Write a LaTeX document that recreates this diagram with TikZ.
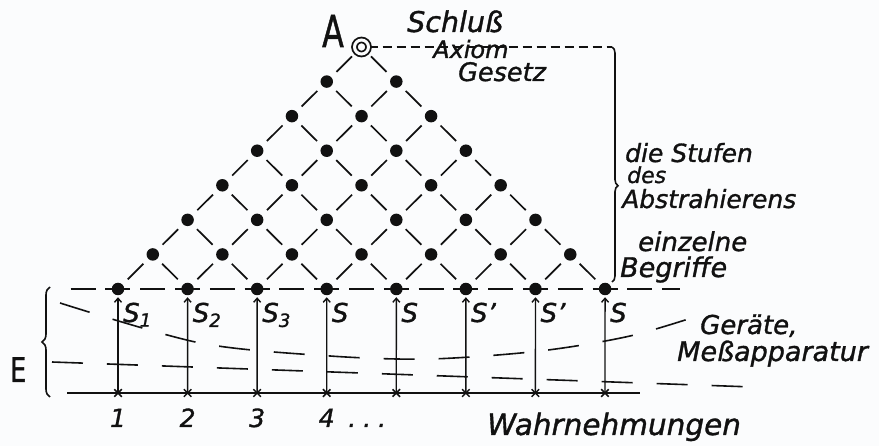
\documentclass[tikz,border=0pt]{standalone}
\usepackage{fontspec}
\setmainfont{DejaVu Sans}[FakeBold=1.2]
\usetikzlibrary{arrows.meta,positioning,calc,shapes.misc,decorations.pathreplacing,backgrounds}
\definecolor{ink}{HTML}{111111}
\definecolor{paper}{HTML}{FBFCFD}
\newcommand{\fs}[1]{\fontsize{#1}{#1}\selectfont\itshape}

\begin{document}
\begin{tikzpicture}[x=1pt,y=-1pt,font=\fs{26},text=ink,
  dot/.style={circle,fill=ink,inner sep=0pt,outer sep=0pt,minimum size=12.5pt},
  apex/.style={circle,draw=ink,double=paper,double distance=3pt,line width=1.8pt,
    inner sep=0pt,outer sep=0pt,minimum size=14pt},
  lattice/.style={ink,line width=1.7pt,dash pattern=on 0pt off 7.52pt on 22pt off 19.52pt},
  level/.style={ink,line width=1.7pt,dash pattern=on 25pt off 9.79pt},
  gauge/.style={ink,line width=1.6pt,dash pattern=on 31pt off 24pt},
  ray/.style={ink,line width=1.4pt,-{Straight Barb[length=4pt,width=7pt]},shorten >=2pt},
  tick/.style={cross out,draw=ink,line width=1.5pt,minimum size=6pt,inner sep=0pt},
  note/.style={anchor=base west,inner sep=0pt},
  brc/.style={ink,line width=1.6pt,decorate}]
  \useasboundingbox (0,0) rectangle (879,446);
  % lattice of concepts, apex on top
  \foreach \r in {0,...,6} {
    \pgfmathtruncatemacro\kmax{7-\r}
    \foreach \k in {0,...,\kmax}
      \node[dot] (d-\r-\k) at ({118+(2*\k+\r)*34.79},{289-\r*34.57}) {};
  }
  \node[apex] (d-7-0) at (361.5,47) {};
  \node[note,font=\fontsize{44}{44}\selectfont,xscale=0.72] (A) at (322,47) {A};
  % observations and measured values
  \foreach \i/\t in {0/{S\textsubscript{1}},1/{S\textsubscript{2}},2/{S\textsubscript{3}},3/S,4/S,5/S',6/S',7/S} {
    \node[tick] (x-\i) at ({118+\i*69.57},393) {};
    \node[note] (s-\i) at ({123+\i*69.57},322) {\t};
  }
  \foreach \i/\t in {0/1,1/2,2/3,3/4}
    \node[anchor=base,inner sep=0pt,font=\fs{25}] (n-\i) at ({118+\i*69.57},427) {\t};
  \node[note,font=\fs{25}] (more) at (348,427) {.\hspace{7pt}.\hspace{7pt}.};
  \coordinate (hl-w) at (70.7,289);
  \coordinate (hl-e) at (680,289);
  \coordinate (bl-w) at (67,393);
  \coordinate (bl-e) at (640,393);
  \coordinate (br-top) at (612,47);
  \coordinate (br-bot) at (612,282);
  \coordinate (lb-top) at (50,287);
  \coordinate (lb-bot) at (50,397);
  \coordinate (g2-w) at (52,362);
  \coordinate (g2-e) at (753,387);
  % labels
  \node[note,font=\fs{28.5}] (schluss) at (407,32) {Schluß};
  \node[note,font=\fs{24}] (axiom) at (433,58) {Axiom};
  \node[note,font=\fs{25.5}] (gesetz) at (458,81) {Gesetz};
  \node[note,font=\fs{25}] (stufen) at (625,162) {die Stufen};
  \node[note,font=\fs{22}] (des) at (627,183) {des};
  \node[note,font=\fs{25}] (abstr) at (622,208) {Abstrahierens};
  \node[note,font=\fs{26}] (einz) at (638,251) {einzelne};
  \node[note,font=\fs{27}] (begr) at (620,277) {Begriffe};
  \node[note,font=\fs{26}] (geraete) at (700,334) {Geräte,};
  \node[note,font=\fs{27}] (mess) at (677,361) {Meßapparatur};
  \node[note,font=\fs{29.5}] (wahr) at (487,435) {Wahrnehmungen};
  \node[note,font=\fontsize{34}{34}\selectfont,xscale=0.75] (E) at (10,382) {E};
  \begin{scope}[on background layer]
    \fill[paper] (0,0) rectangle (879,446);
    \foreach \i in {0,...,6} {
      \pgfmathtruncatemacro\j{7-\i}
      \draw[lattice] (d-0-\i) -- (d-\j-\i);
    }
    \foreach \i in {1,...,7} \draw[lattice] (d-0-\i) -- (d-\i-0);
    \draw[level] (hl-w) -- (hl-e);
    \draw[ink,line width=1.9pt] (bl-w) -- (bl-e);
    \foreach \i in {0,...,7} \draw[ray] (x-\i.center) -- (d-0-\i);
    % instruments
    \draw[gauge] plot[smooth] coordinates {(60,303) (200,343) (330,356) (430,359) (540,351) (630,336) (707,313)};
    \draw[gauge] (g2-w) -- (g2-e);
    % braces
    \draw[ink,line width=1.5pt,dash pattern=on 9pt off 5pt] (d-7-0) -- (br-top);
    \draw[brc,decoration={brace,amplitude=6pt,aspect=0.59}] (br-top) -- (br-bot);
    \draw[brc,decoration={brace,amplitude=8pt}] (lb-bot) -- (lb-top);
  \end{scope}
\end{tikzpicture}
\end{document}
